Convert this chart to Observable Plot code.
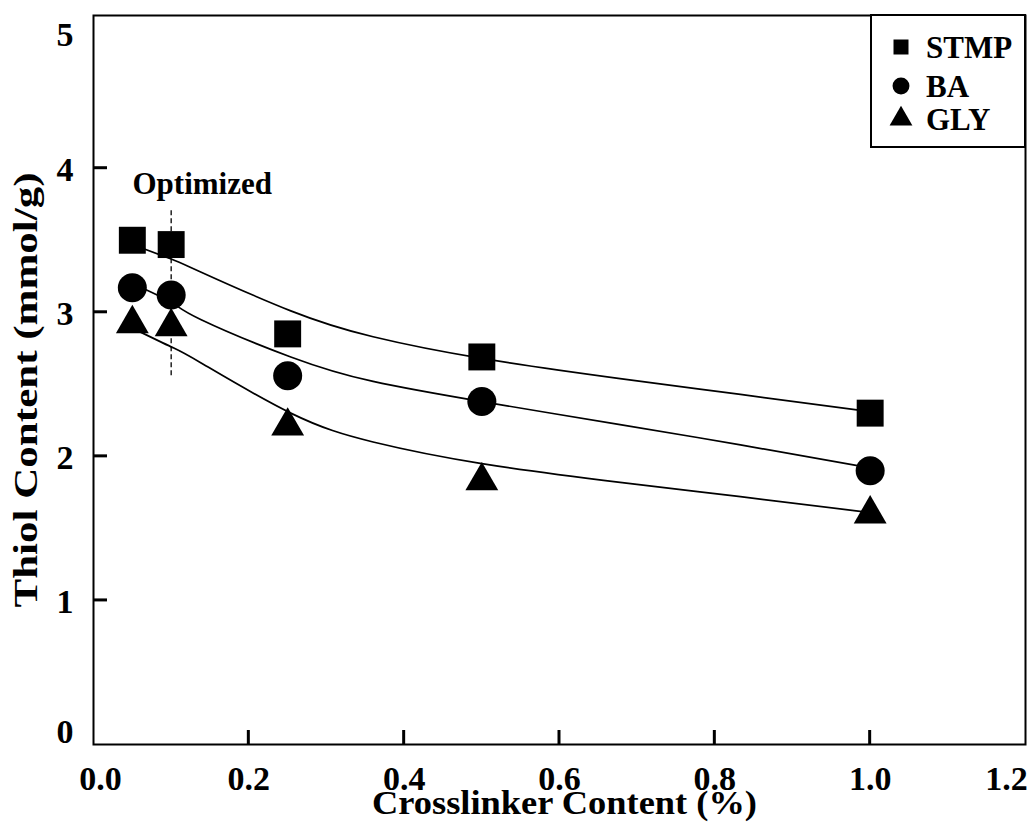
<!DOCTYPE html>
<html><head><meta charset="utf-8">
<script src="https://cdn.jsdelivr.net/npm/d3@7"></script>
<script src="https://cdn.jsdelivr.net/npm/@observablehq/plot@0.6"></script>
<style>html,body{margin:0;padding:0;background:#fff;} svg{display:block}</style>
</head><body><div id="chart"></div>
<script>
// ---- data ----
const seriesNames = ["STMP", "BA", "GLY"];
const crosslinker = [0.05, 0.1, 0.25, 0.5, 1.0];
const stmpThiol = [3.50, 3.47, 2.85, 2.69, 2.30];
const baThiol = [3.17, 3.12, 2.56, 2.38, 1.90];
const glyThiol = [2.92, 2.90, 2.21, 1.83, 1.60];
// fitted trend curves
const fitX = [0.05, 0.1, 0.138, 0.254, 0.36, 0.5, 0.678, 0.833, 1.0];
const stmpFit = [3.47, 3.37, 3.28, 3.01, 2.83, 2.68, 2.54, 2.43, 2.31];
const baFit = [3.20, 3.07, 2.95, 2.69, 2.52, 2.38, 2.22, 2.08, 1.92];
const glyFit = [2.89, 2.76, 2.65, 2.30, 2.10, 1.95, 1.82, 1.72, 1.61];
const xTicks = [0, 0.2, 0.4, 0.6, 0.8, 1.0, 1.2];
const yTicks = [0, 1, 2, 3, 4, 5];
const optimizedX = [0.1];
const optimizedY1 = 2.56, optimizedY2 = 3.72;
const optimizedLabel = [{text: "Optimized", x: 0.14, y: 3.89}];
const xTitle = "Crosslinker Content (%)";
const yTitle = "Thiol Content (mmol/g)";

// ---- tables ----
const seriesVals = [stmpThiol, baThiol, glyThiol];
const seriesFits = [stmpFit, baFit, glyFit];
const points = seriesNames.flatMap((s, k) => crosslinker.map((x, i) => ({series: s, x, y: seriesVals[k][i]})));
const fits = seriesNames.flatMap((s, k) => fitX.map((x, i) => ({series: s, x, y: seriesFits[k][i]})));
const symbolOf = {STMP: "square", BA: "circle", GLY: "triangle"};
const rOf = {STMP: 15.2, BA: 14.5, GLY: 12.2};

const font = "Liberation Serif, Times New Roman, serif";
const fmt = d3.format(".1f");
const innerX = xTicks.slice(1, -1);
const innerY = yTicks.slice(1, -1);
const W = 1033, H = 839, mL = 93, mR = 8, mT = 15, mB = 95, tickPx = 14;

const chart = Plot.plot({
  width: W, height: H,
  marginLeft: mL, marginRight: mR, marginTop: mT, marginBottom: mB,
  style: {fontFamily: font, fontWeight: "bold", fontSize: "34px", color: "black", background: "white"},
  x: {domain: [0, 1.2]},
  y: {domain: [0, 5.06]},
  marks: [
    Plot.ruleX(optimizedX, {y1: optimizedY1, y2: optimizedY2, stroke: "black", strokeWidth: 1.3, strokeDasharray: "5,3"}),
    Plot.line(fits, {x: "x", y: "y", z: "series", curve: "natural", stroke: "black", strokeWidth: 1.7}),
    ...seriesNames.map(s => Plot.dot(points.filter(d => d.series === s), {x: "x", y: "y", symbol: () => symbolOf[s], r: rOf[s], fill: "black", stroke: "none"})),
    Plot.text(optimizedLabel, {x: "x", y: "y", text: "text", fontSize: 31, fontWeight: "bold"}),
    Plot.frame({stroke: "black", strokeWidth: 2}),
    // tick labels
    Plot.axisX(innerX, {tickSize: 0, tickPadding: 21, tickFormat: fmt, fontSize: 34, label: null}),
    Plot.axisX([xTicks[0]], {tickSize: 0, tickPadding: 21, tickFormat: fmt, fontSize: 34, label: null, dx: 7}),
    Plot.axisX([xTicks[xTicks.length - 1]], {tickSize: 0, tickPadding: 21, tickFormat: fmt, fontSize: 34, label: null, dx: -19}),
    Plot.axisY(innerY, {tickSize: 0, tickPadding: 20, tickFormat: d3.format("d"), fontSize: 34, label: null, dy: 2}),
    Plot.axisY([yTicks[0]], {tickSize: 0, tickPadding: 20, tickFormat: d3.format("d"), fontSize: 34, label: null, dy: -12}),
    Plot.axisY([yTicks[yTicks.length - 1]], {tickSize: 0, tickPadding: 20, tickFormat: d3.format("d"), fontSize: 34, label: null, dy: 11}),
    // axis titles
    Plot.text([xTitle], {frameAnchor: "bottom", text: d => d, textAnchor: "middle", dy: 69, dx: 5, fontSize: 34, fontWeight: "bold"}),
    Plot.text([yTitle], {frameAnchor: "left", text: d => d, textAnchor: "middle", rotate: -90, dx: -67, dy: 10, fontSize: 34, fontWeight: "bold"})
  ]
});
document.getElementById("chart").append(chart);

const svg = d3.select(chart);
const xs = chart.scale("x"), ys = chart.scale("y");
// inward ticks, placed through the plot's own scales
const tg = svg.append("g").attr("stroke", "black").attr("stroke-width", 3);
innerX.forEach(v => {
  const px = xs.apply(v), py = ys.apply(0);
  tg.append("line").attr("x1", px).attr("x2", px).attr("y1", py).attr("y2", py - tickPx);
});
innerY.forEach(v => {
  const py = ys.apply(v), px = xs.apply(0);
  tg.append("line").attr("x1", px).attr("x2", px + tickPx).attr("y1", py).attr("y2", py);
});

// stretch titles to the reference's lengths
svg.selectAll("text").filter(function() { return this.textContent === yTitle; })
  .attr("textLength", 435).attr("lengthAdjust", "spacingAndGlyphs");
svg.selectAll("text").filter(function() { return this.textContent === xTitle; })
  .attr("textLength", 385).attr("lengthAdjust", "spacingAndGlyphs");

// ---- legend (inside plot, top-right) ----
const lg = svg.append("g").attr("font-family", font).attr("font-weight", "bold").attr("font-size", 31).attr("text-anchor", "start");
lg.append("rect").attr("x", 871).attr("y", 15).attr("width", 154).attr("height", 132)
  .attr("fill", "white").attr("stroke", "black").attr("stroke-width", 2);
const legSym = {STMP: d3.symbolSquare, BA: d3.symbolCircle, GLY: d3.symbolTriangle};
const legY = [47, 86, 119];
seriesNames.forEach((s, i) => {
  lg.append("path").attr("d", d3.symbol(legSym[s], 225)()).attr("transform", `translate(901,${legY[i]})`).attr("fill", "black");
  lg.append("text").attr("x", 926).attr("y", legY[i]).attr("dy", "0.34em").attr("fill", "black").attr("text-anchor", "start").text(s);
});
</script></body></html>
